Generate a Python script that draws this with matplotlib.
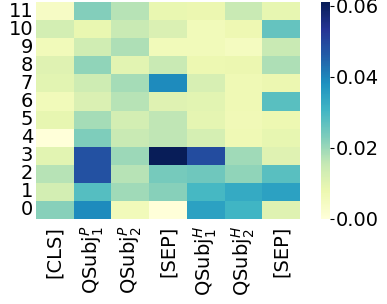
import numpy as np
import matplotlib
matplotlib.use("Agg")
import matplotlib.pyplot as plt
import seaborn as sns

tokens = ["[CLS]", "QSubj$_1^P$", "QSubj$_2^P$", "[SEP]",
          "QSubj$_1^H$", "QSubj$_2^H$", "[SEP]"]
layers = list(range(12))

# attention weights, one list per layer (layer 0 first)
layer0 = [0.022, 0.039, 0.006, 0.000, 0.035, 0.0305, 0.0105]
layer1 = [0.013, 0.028, 0.0195, 0.022, 0.030, 0.033, 0.035]
layer2 = [0.017, 0.048, 0.017, 0.024, 0.025, 0.021, 0.0275]
layer3 = [0.010, 0.048, 0.020, 0.061, 0.049, 0.0195, 0.0105]
layer4 = [0.000, 0.023, 0.015, 0.016, 0.0125, 0.007, 0.009]
layer5 = [0.009, 0.019, 0.013, 0.016, 0.0095, 0.0065, 0.0076]
layer6 = [0.006, 0.0115, 0.017, 0.0105, 0.010, 0.007, 0.0275]
layer7 = [0.010, 0.014, 0.019, 0.039, 0.012, 0.007, 0.008]
layer8 = [0.0105, 0.021, 0.010, 0.015, 0.0075, 0.008, 0.018]
layer9 = [0.006, 0.0135, 0.018, 0.006, 0.006, 0.005, 0.015]
layer10 = [0.013, 0.0085, 0.015, 0.0115, 0.006, 0.0073, 0.026]
layer11 = [0.004, 0.0225, 0.017, 0.0085, 0.008, 0.015, 0.009]

data = np.array([layer0, layer1, layer2, layer3, layer4, layer5,
                 layer6, layer7, layer8, layer9, layer10, layer11])

fig = plt.figure(figsize=(3.87, 3.04), dpi=100)
ax = fig.add_axes([0.093, 0.28, 0.682, 0.713])
cax = fig.add_axes([0.829, 0.28, 0.024, 0.713])

sns.heatmap(data, ax=ax, cbar_ax=cax, cmap="YlGnBu", vmin=0, vmax=0.061,
            xticklabels=tokens, yticklabels=layers)
ax.invert_yaxis()
ax.tick_params(length=0, labelsize=14, pad=2)
ax.tick_params(axis="x", pad=5)
ax.set_xticklabels(tokens, rotation=90)
ax.set_yticklabels(layers, rotation=0)

cax.set_yticks([0.0, 0.02, 0.04, 0.06])
cax.tick_params(labelsize=14, length=3, width=0.8, pad=1)
cax.yaxis.set_major_formatter(matplotlib.ticker.FormatStrFormatter("%.2f"))

fig.savefig("out.png", dpi=100)
